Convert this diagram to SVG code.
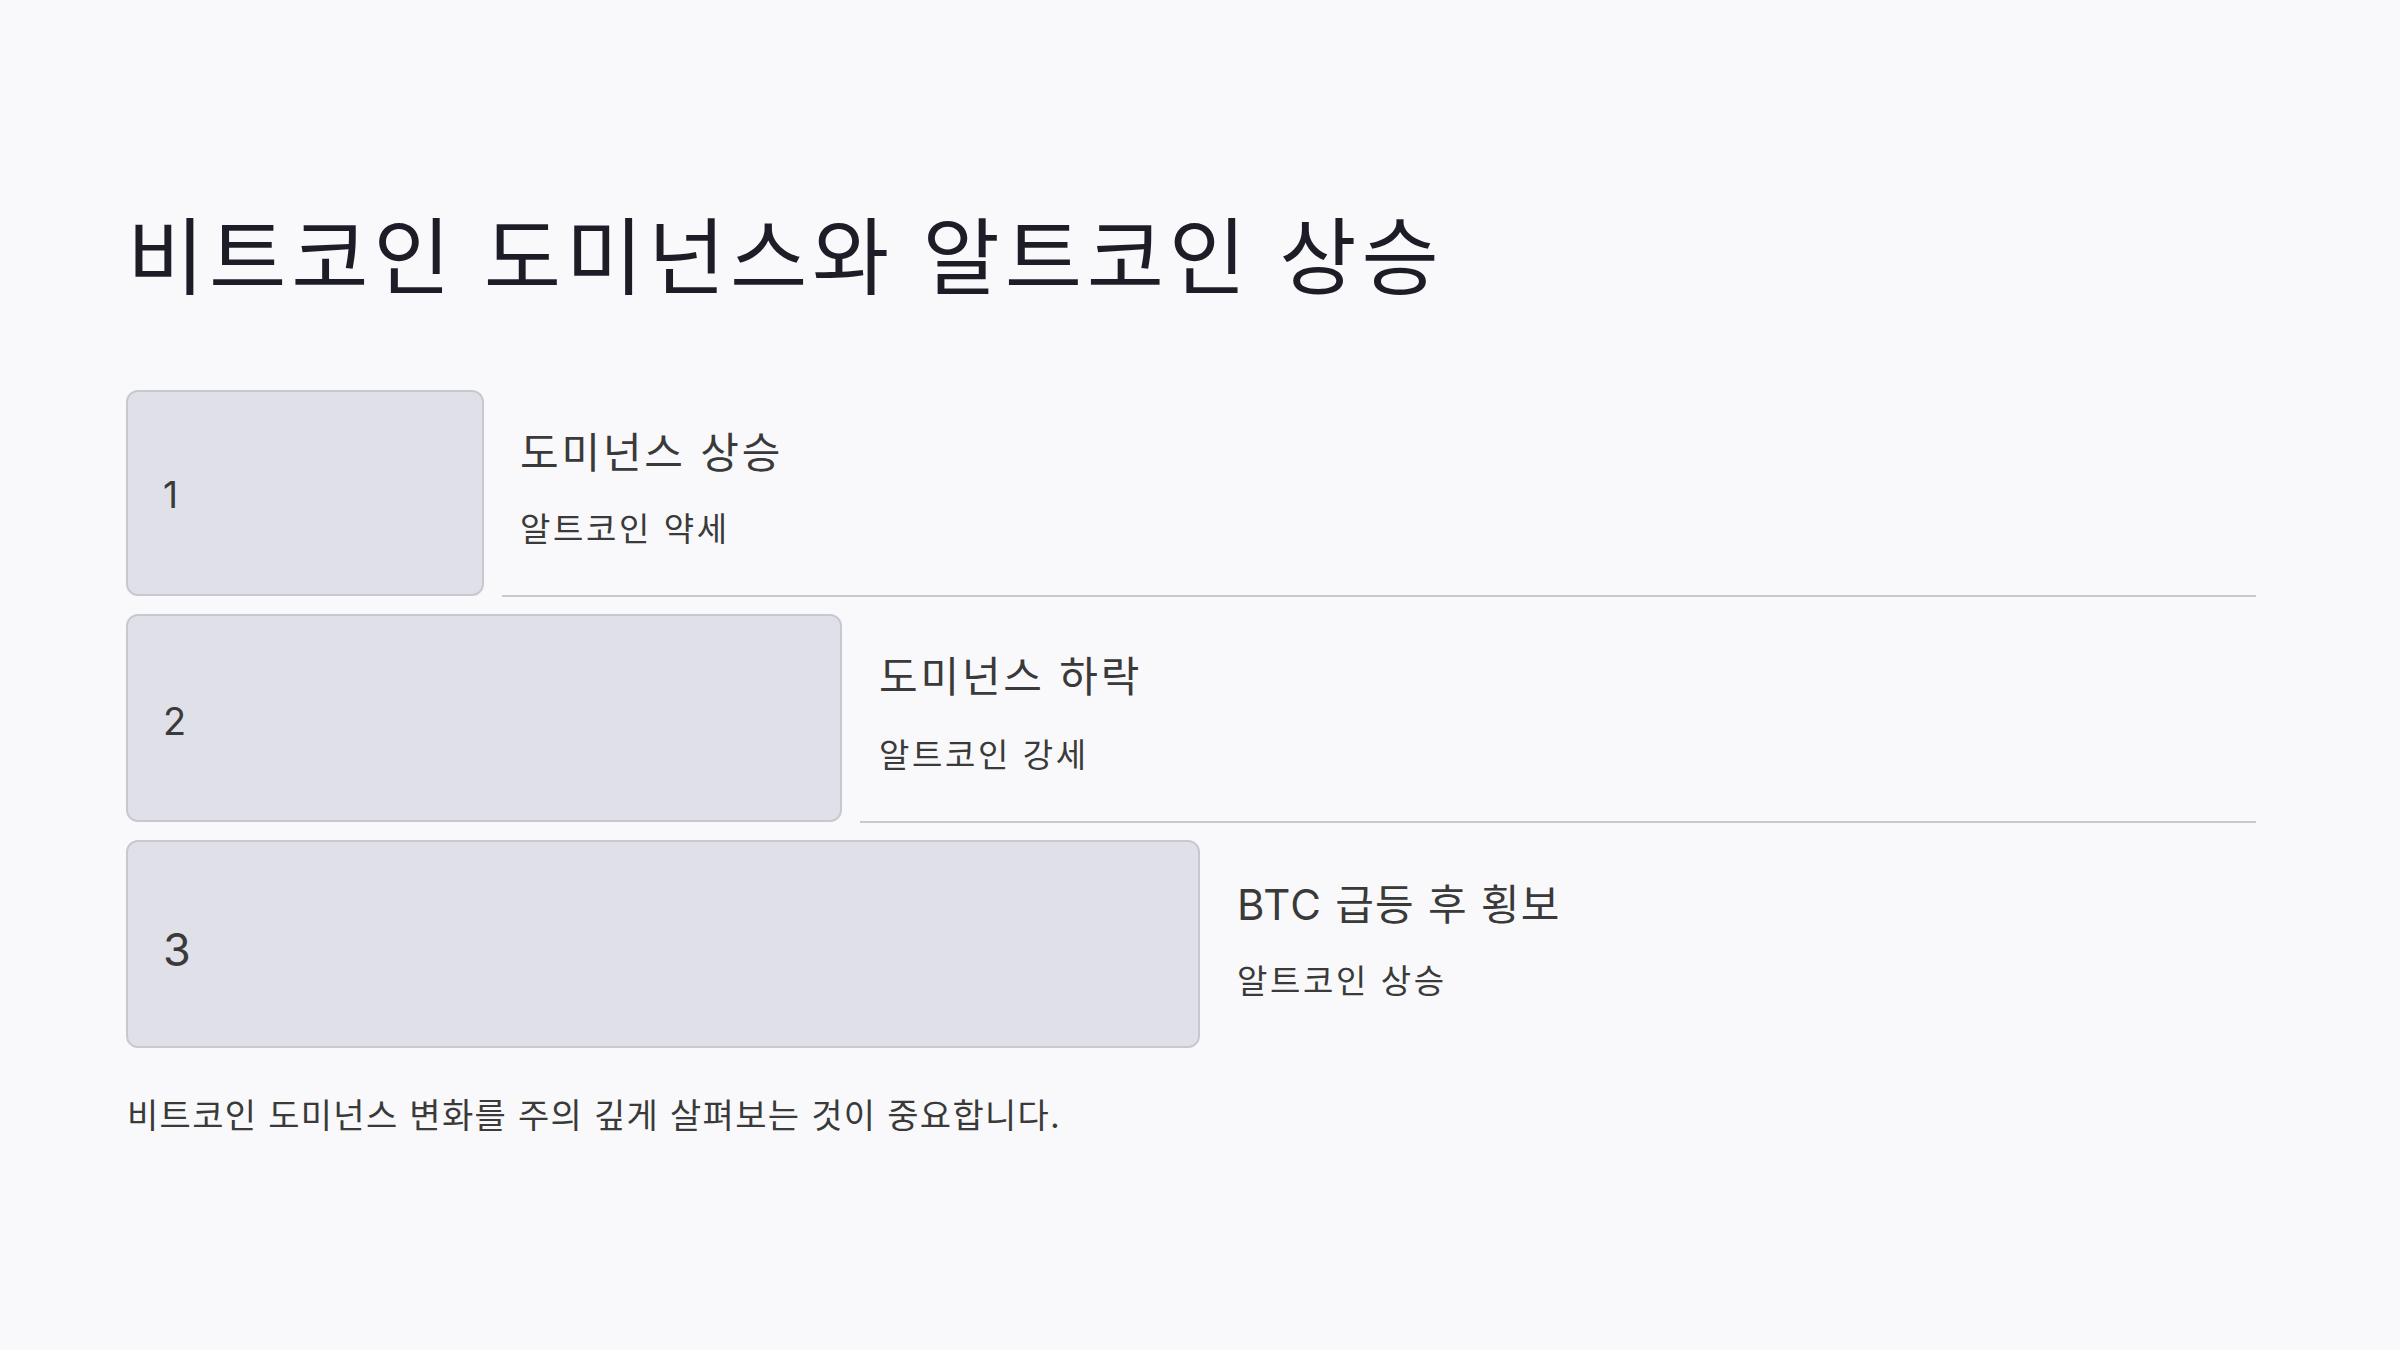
<svg xmlns="http://www.w3.org/2000/svg" width="2400" height="1350" viewBox="0 0 2400 1350">
<style>
.t{font-family:Inter,"Noto Sans CJK KR",sans-serif;}
.title{font-size:84px;fill:#1d1d28;letter-spacing:4.8px;}
.num{fill:#3a3a3a;}
.h{font-size:42px;fill:#3a3a3a;letter-spacing:2.8px;}
.s{font-size:33px;fill:#3a3a3a;letter-spacing:2.6px;}
.foot{font-size:34px;fill:#3a3a3a;letter-spacing:1.3px;}
.box{fill:#e0e0e8;stroke:#c8c8d0;stroke-width:2;}
.sep{stroke:#c8c8d0;stroke-width:2;}
</style>
<rect width="2400" height="1350" fill="#f9f9fb"/>
<text class="t title" x="127" y="288">비트코인 도미넌스와 알트코인 상승</text>
<g id="connectors">
<line class="sep" x1="502" y1="596" x2="2256" y2="596"/>
<line class="sep" x1="860" y1="822" x2="2256" y2="822"/>
</g>
<g id="step1">
<rect class="box" x="127" y="391" width="356" height="204" rx="11"/>
<text class="t num" x="163" y="508" font-size="37">1</text>
<text class="t h" x="520" y="468">도미넌스 상승</text>
<text class="t s" x="520" y="541">알트코인 약세</text>
</g>
<g id="step2">
<rect class="box" x="127" y="615" width="714" height="206" rx="11"/>
<text class="t num" x="163" y="735" font-size="38">2</text>
<text class="t h" x="879" y="692">도미넌스 하락</text>
<text class="t s" x="879" y="767">알트코인 강세</text>
</g>
<g id="step3">
<rect class="box" x="127" y="841" width="1072" height="206" rx="11"/>
<text class="t num" x="163" y="966" font-size="45">3</text>
<text class="t h" x="1237" y="920" style="letter-spacing:1.2px">BTC 급등 후 횡보</text>
<text class="t s" x="1237" y="993">알트코인 상승</text>
</g>
<text class="t foot" x="127" y="1128">비트코인 도미넌스 변화를 주의 깊게 살펴보는 것이 중요합니다.</text>
</svg>
